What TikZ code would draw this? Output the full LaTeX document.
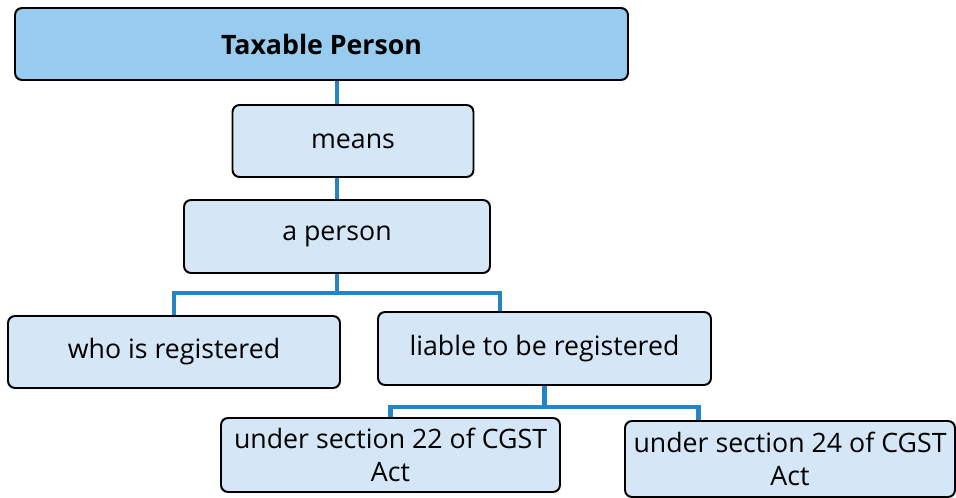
\documentclass[tikz,border=0pt]{standalone}
\usepackage{fontspec}
\setmainfont{Open Sans}
\usetikzlibrary{calc, positioning}
\definecolor{xhead}{HTML}{97CBEF}
\definecolor{xcell}{HTML}{D5E7F6}
\definecolor{xlink}{HTML}{2683C6}
\tikzset{
	cell/.style = {draw=black, line width=1.4pt, rounded corners=5pt, fill=#1, align=center, inner sep=0pt,
		font=\fontsize{19}{23}\selectfont},
	cell/.default = xcell,
	link/.style = {xlink, line width=3.3pt},
}

\begin{document}
\begin{tikzpicture}[x=0.025cm, y=-0.025cm]
			\useasboundingbox (0,0) rectangle (956,498);
			\node[cell=xhead, minimum width=613*0.025cm, minimum height=72*0.025cm, font=\fontsize{19}{23}\selectfont\bfseries] (taxable) at (321.5,44) {Taxable Person};
			\node[cell, minimum width=241*0.025cm, minimum height=72*0.025cm] (means) at (353,141) {means};
			\node[cell, minimum width=306*0.025cm, minimum height=73*0.025cm] (person) at (337,236.5) {a person};
			\node[cell, minimum width=332*0.025cm, minimum height=72*0.025cm] (who) at (174,352) {who is registered};
			\node[cell, minimum width=333*0.025cm, minimum height=73*0.025cm] (liable) at (544.5,348.5) {liable to be registered};
			\node[cell, minimum width=339*0.025cm, minimum height=74*0.025cm] (sec22) at (390.5,455) {under section 22 of CGST\\Act};
			\node[cell, minimum width=330*0.025cm, minimum height=76*0.025cm] (sec24) at (790,459) {under section 24 of CGST\\Act};
			% vertical links
			\draw[link] (taxable.south -| person.north) -- (means.north -| person.north);
			\draw[link] (means.south -| person.north) -- (person.north);
			% branches
			\coordinate (pj) at ($(person.south)+(0,19)$);
			\coordinate (pr) at ($(pj)!-1!(pj -| who.north)$);
			\draw[link] (person.south) -- (pj);
			\draw[link] (who.north) |- (pj) -| (liable.north -| pr);
			\coordinate (lj) at ($(liable.south)+(0,21)$);
			\coordinate (lr) at ($(lj)!-1!(lj -| sec22.north)$);
			\draw[link] (liable.south) -- (lj);
			\draw[link] (sec22.north) |- (lj) -| (sec24.north -| lr);
		\end{tikzpicture}
\end{document}
